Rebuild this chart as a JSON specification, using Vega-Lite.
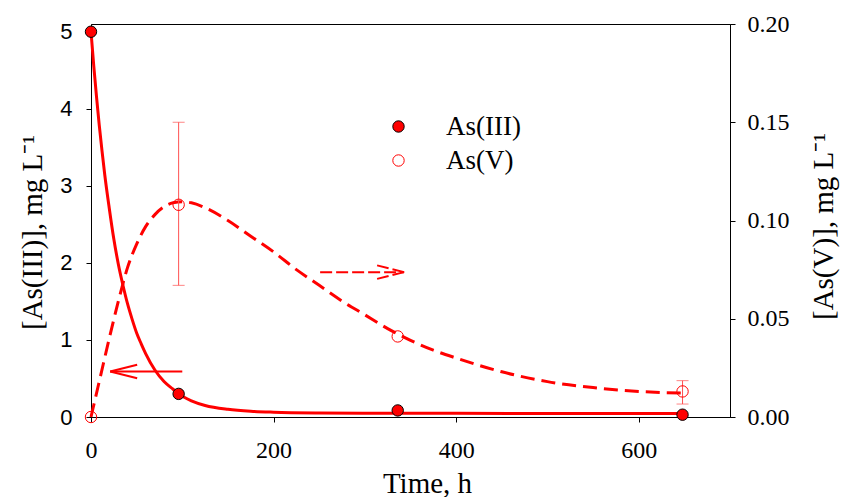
{
  "$schema": "https://vega.github.io/schema/vega-lite/v6.json",
  "autosize": {"type": "none"},
  "width": 639,
  "height": 393,
  "padding": {"left": 91, "top": 24, "right": 115, "bottom": 80},
  "background": "white",
  "datasets": {
    "a3pts": [
      {"t": 0, "c": 5.0, "series": "As(III)"},
      {"t": 96, "c": 0.30, "series": "As(III)"},
      {"t": 336, "c": 0.085, "series": "As(III)"},
      {"t": 648, "c": 0.03, "series": "As(III)"}
    ],
    "a5pts": [
      {"t": 0, "c": 0.0, "series": "As(V)"},
      {"t": 96, "c": 0.108, "series": "As(V)"},
      {"t": 336, "c": 0.041, "series": "As(V)"},
      {"t": 648, "c": 0.013, "series": "As(V)"}
    ],
    "a5err": [
      {"t": 96, "c": 0.067, "c2": 0.150},
      {"t": 648, "c": 0.0066, "c2": 0.0185}
    ],
    "a3fit": [
      {"t": 0, "c": 5.0}, {"t": 3, "c": 4.56}, {"t": 6, "c": 4.16}, {"t": 9, "c": 3.79},
      {"t": 12, "c": 3.46}, {"t": 15, "c": 3.15}, {"t": 20, "c": 2.71}, {"t": 25, "c": 2.31},
      {"t": 30, "c": 1.98}, {"t": 35, "c": 1.71}, {"t": 40, "c": 1.47}, {"t": 45, "c": 1.27},
      {"t": 50, "c": 1.09}, {"t": 55, "c": 0.95}, {"t": 60, "c": 0.82}, {"t": 70, "c": 0.61},
      {"t": 80, "c": 0.46}, {"t": 90, "c": 0.36}, {"t": 96, "c": 0.30}, {"t": 110, "c": 0.21},
      {"t": 125, "c": 0.15}, {"t": 150, "c": 0.10}, {"t": 175, "c": 0.075}, {"t": 200, "c": 0.063},
      {"t": 250, "c": 0.053}, {"t": 300, "c": 0.05}, {"t": 400, "c": 0.048}, {"t": 500, "c": 0.046},
      {"t": 648, "c": 0.045}
    ],
    "a5fit": [
      {"t": 0, "c": 0.0}, {"t": 5, "c": 0.010}, {"t": 10, "c": 0.020}, {"t": 20, "c": 0.040},
      {"t": 30, "c": 0.059}, {"t": 40, "c": 0.076}, {"t": 50, "c": 0.088}, {"t": 60, "c": 0.097},
      {"t": 70, "c": 0.103}, {"t": 80, "c": 0.107}, {"t": 90, "c": 0.109}, {"t": 100, "c": 0.1095},
      {"t": 110, "c": 0.109}, {"t": 125, "c": 0.1065}, {"t": 150, "c": 0.100}, {"t": 175, "c": 0.092},
      {"t": 200, "c": 0.084}, {"t": 225, "c": 0.075}, {"t": 250, "c": 0.067}, {"t": 275, "c": 0.059},
      {"t": 300, "c": 0.052}, {"t": 325, "c": 0.045}, {"t": 350, "c": 0.039}, {"t": 375, "c": 0.034},
      {"t": 400, "c": 0.030}, {"t": 450, "c": 0.023}, {"t": 500, "c": 0.018}, {"t": 550, "c": 0.015},
      {"t": 600, "c": 0.013}, {"t": 648, "c": 0.0122}
    ],
    "arrowL": [{"t": 21, "c": 0.59}, {"t": 100, "c": 0.59}],
    "arrowR": [{"t": 251, "c": 1.88}, {"t": 343, "c": 1.88}]
  },
  "config": {
    "view": {"stroke": "black", "strokeWidth": 1},
    "axis": {
      "grid": false, "domainColor": "black", "tickColor": "black", "labelColor": "black",
      "titleColor": "black", "tickSize": 5, "domainWidth": 1, "tickWidth": 1,
      "labelFlush": false, "labelOverlap": false, "titleFontWeight": "normal"
    }
  },
  "encoding": {
    "x": {
      "field": "t", "type": "quantitative",
      "scale": {"domain": [0, 700], "nice": false, "zero": false},
      "axis": {
        "values": [0, 200, 400, 600], "labelFont": "Liberation Serif", "labelFontSize": 24,
        "labelPadding": 16, "title": "Time, h", "titleFont": "Liberation Serif", "titleFontSize": 29,
        "titleX": 336, "titleY": 75, "titleBaseline": "alphabetic", "titleAlign": "center"
      }
    }
  },
  "layer": [
    {
      "encoding": {
        "y": {
          "field": "c", "type": "quantitative",
          "scale": {"domain": [0, 5.1], "nice": false},
          "axis": {
            "orient": "left", "values": [0, 1, 2, 3, 4, 5], "labelFont": "Liberation Sans",
            "labelFontSize": 22, "labelPadding": 14, "title": "[As(III)], mg L⁻¹",
            "titleFont": "Liberation Serif", "titleFontSize": 29, "titleAngle": 270,
            "titleX": -50, "titleY": 208, "titleBaseline": "alphabetic", "titleAlign": "center"
          }
        }
      },
      "layer": [
        {"data": {"name": "a3fit"}, "mark": {"type": "line", "color": "#ff0000", "strokeWidth": 3, "interpolate": "monotone"}, "encoding": {}},
        {"data": {"name": "arrowL"}, "mark": {"type": "line", "color": "#ff0000", "strokeWidth": 2}, "encoding": {}},
        {"data": {"name": "arrowL"}, "transform": [{"filter": "datum.t == 21"}],
         "mark": {"type": "point", "shape": "M0,0L2,-0.5M0,0L2,0.5", "size": 729, "filled": false, "stroke": "#ff0000", "strokeWidth": 2, "opacity": 1}, "encoding": {}},
        {"data": {"name": "arrowR"}, "mark": {"type": "line", "color": "#ff0000", "strokeWidth": 2, "strokeDash": [12, 4]}, "encoding": {}},
        {"data": {"name": "arrowR"}, "transform": [{"filter": "datum.t == 343"}],
         "mark": {"type": "point", "shape": "M0,0L-2,-0.5M0,0L-2,0.5", "size": 729, "filled": false, "stroke": "#ff0000", "strokeWidth": 2, "strokeDash": [12, 4], "opacity": 1}, "encoding": {}},
        {"data": {"name": "a3pts"},
         "mark": {"type": "point", "shape": "circle", "size": 130, "filled": true, "strokeWidth": 1, "opacity": 1},
         "encoding": {
           "fill": {"field": "series", "type": "nominal", "scale": {"domain": ["As(III)", "As(V)"], "range": ["#ff0000", "transparent"]},
             "legend": {"orient": "none", "legendX": 294, "legendY": 89, "title": null, "labelFont": "Liberation Serif", "labelFontSize": 27, "labelColor": "black", "symbolSize": 130, "symbolStrokeWidth": 1, "labelOffset": 34, "rowPadding": 6, "padding": 0, "symbolType": "circle"}},
           "stroke": {"field": "series", "type": "nominal", "scale": {"domain": ["As(III)", "As(V)"], "range": ["#000000", "#ff0000"]},
             "legend": {"orient": "none", "legendX": 294, "legendY": 89, "title": null, "labelFont": "Liberation Serif", "labelFontSize": 27, "labelColor": "black", "symbolSize": 130, "symbolStrokeWidth": 1, "labelOffset": 34, "rowPadding": 6, "padding": 0, "symbolType": "circle"}}
         }}
      ]
    },
    {
      "encoding": {
        "y": {
          "field": "c", "type": "quantitative",
          "scale": {"domain": [0, 0.2], "nice": false},
          "axis": {
            "orient": "right", "values": [0, 0.05, 0.1, 0.15, 0.2], "format": ".2f",
            "labelFont": "Liberation Serif", "labelFontSize": 24, "labelPadding": 12,
            "title": "[As(V)], mg L⁻¹", "titleFont": "Liberation Serif", "titleFontSize": 29,
            "titleAngle": 270, "titleX": 102, "titleY": 202, "titleBaseline": "alphabetic", "titleAlign": "center"
          }
        }
      },
      "layer": [
        {"data": {"name": "a5fit"}, "mark": {"type": "line", "color": "#ff0000", "strokeWidth": 3, "strokeDash": [14, 7], "interpolate": "monotone"}, "encoding": {}},
        {"data": {"name": "a5err"}, "mark": {"type": "errorbar", "ticks": true, "size": 12, "thickness": 1, "color": "#ff5050"}, "encoding": {"y2": {"field": "c2"}}},
        {"data": {"name": "a5pts"},
         "mark": {"type": "point", "shape": "circle", "size": 130, "filled": true, "strokeWidth": 1, "opacity": 1},
         "encoding": {
           "fill": {"field": "series", "type": "nominal", "scale": {"domain": ["As(III)", "As(V)"], "range": ["#ff0000", "transparent"]},
             "legend": {"orient": "none", "legendX": 294, "legendY": 89, "title": null, "labelFont": "Liberation Serif", "labelFontSize": 27, "labelColor": "black", "symbolSize": 130, "symbolStrokeWidth": 1, "labelOffset": 34, "rowPadding": 6, "padding": 0, "symbolType": "circle"}},
           "stroke": {"field": "series", "type": "nominal", "scale": {"domain": ["As(III)", "As(V)"], "range": ["#000000", "#ff0000"]},
             "legend": {"orient": "none", "legendX": 294, "legendY": 89, "title": null, "labelFont": "Liberation Serif", "labelFontSize": 27, "labelColor": "black", "symbolSize": 130, "symbolStrokeWidth": 1, "labelOffset": 34, "rowPadding": 6, "padding": 0, "symbolType": "circle"}}
         }}
      ]
    }
  ],
  "resolve": {"scale": {"y": "independent"}}
}
